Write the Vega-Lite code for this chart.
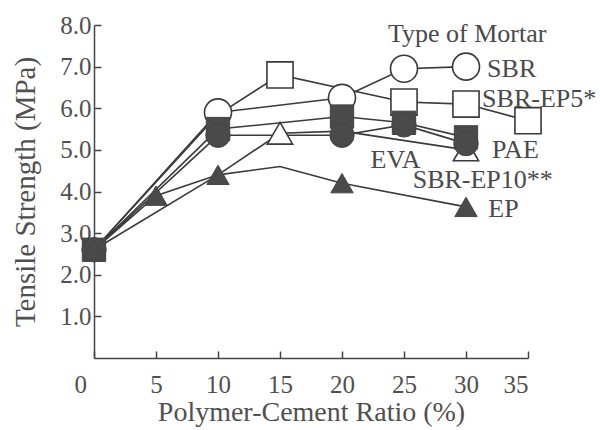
{
  "$schema": "https://vega.github.io/schema/vega-lite/v6.json",
  "width": 434,
  "height": 333,
  "autosize": {"type": "none"},
  "padding": {"left": 94, "top": 25, "right": 72, "bottom": 72},
  "background": "white",
  "config": {
    "view": {"stroke": null},
    "font": "Liberation Serif",
    "axis": {
      "grid": false,
      "labelFont": "Liberation Serif",
      "titleFont": "Liberation Serif",
      "labelFontSize": 25,
      "titleFontSize": 28,
      "titleFontWeight": "normal",
      "labelColor": "#505050",
      "titleColor": "#505050",
      "domainColor": "#444444",
      "tickColor": "#444444",
      "domainWidth": 1.5,
      "tickWidth": 1.5,
      "tickSize": -7
    }
  },
  "datasets": {
    "series": [
      {"mortar": "SBR", "ratio": 0, "ts": 2.6, "m": false},
      {"mortar": "SBR", "ratio": 10, "ts": 5.9, "m": true},
      {"mortar": "SBR", "ratio": 20, "ts": 6.25, "m": true},
      {"mortar": "SBR", "ratio": 25, "ts": 6.95, "m": true},
      {"mortar": "SBR", "ratio": 30, "ts": 7.0, "m": true},
      {"mortar": "SBR-EP5*", "ratio": 0, "ts": 2.6, "m": false},
      {"mortar": "SBR-EP5*", "ratio": 10, "ts": 5.85, "m": false},
      {"mortar": "SBR-EP5*", "ratio": 15, "ts": 6.8, "m": true},
      {"mortar": "SBR-EP5*", "ratio": 25, "ts": 6.15, "m": true},
      {"mortar": "SBR-EP5*", "ratio": 30, "ts": 6.1, "m": true},
      {"mortar": "SBR-EP5*", "ratio": 35, "ts": 5.7, "m": true},
      {"mortar": "EVA", "ratio": 0, "ts": 2.6, "m": false},
      {"mortar": "EVA", "ratio": 10, "ts": 4.4, "m": false},
      {"mortar": "EVA", "ratio": 15, "ts": 5.4, "m": true},
      {"mortar": "EVA", "ratio": 20, "ts": 5.45, "m": false},
      {"mortar": "EVA", "ratio": 30, "ts": 5.0, "m": true},
      {"mortar": "SBR-EP10**", "ratio": 0, "ts": 2.6, "m": true},
      {"mortar": "SBR-EP10**", "ratio": 10, "ts": 5.5, "m": true},
      {"mortar": "SBR-EP10**", "ratio": 20, "ts": 5.8, "m": true},
      {"mortar": "SBR-EP10**", "ratio": 25, "ts": 5.65, "m": true},
      {"mortar": "SBR-EP10**", "ratio": 30, "ts": 5.3, "m": true},
      {"mortar": "PAE", "ratio": 0, "ts": 2.6, "m": true},
      {"mortar": "PAE", "ratio": 10, "ts": 5.35, "m": true},
      {"mortar": "PAE", "ratio": 20, "ts": 5.35, "m": true},
      {"mortar": "PAE", "ratio": 25, "ts": 5.6, "m": true},
      {"mortar": "PAE", "ratio": 30, "ts": 5.15, "m": true},
      {"mortar": "EP", "ratio": 0, "ts": 2.6, "m": true},
      {"mortar": "EP", "ratio": 5, "ts": 3.9, "m": true},
      {"mortar": "EP", "ratio": 10, "ts": 4.4, "m": true},
      {"mortar": "EP", "ratio": 15, "ts": 4.6, "m": false},
      {"mortar": "EP", "ratio": 20, "ts": 4.2, "m": true},
      {"mortar": "EP", "ratio": 30, "ts": 3.63, "m": true}
    ],
    "labels": [
      {"t": "Type of Mortar", "x": 23.7, "y": 7.6},
      {"t": "SBR", "x": 31.7, "y": 6.75},
      {"t": "SBR-EP5*", "x": 31.3, "y": 6.03},
      {"t": "PAE", "x": 32.1, "y": 4.8},
      {"t": "EVA", "x": 22.3, "y": 4.57},
      {"t": "SBR-EP10**", "x": 25.7, "y": 4.09},
      {"t": "EP", "x": 31.8, "y": 3.39}
    ]
  },
  "layer": [
    {
      "data": {"name": "series"},
      "mark": {"type": "line", "color": "#3a3a3a", "strokeWidth": 1.6},
      "encoding": {
        "x": {
          "field": "ratio", "type": "quantitative",
          "scale": {"domain": [0, 35], "nice": false},
          "axis": {
            "values": [0, 5, 10, 15, 20, 25, 30, 35],
            "labelPadding": 21,
            "labelOffset": {"condition": {"test": "datum.value == 0", "value": -20}, "value": 0},
            "title": "Polymer-Cement Ratio (%)",
            "titlePadding": 1
          }
        },
        "y": {
          "field": "ts", "type": "quantitative",
          "scale": {"domain": [0, 8], "nice": false},
          "axis": {
            "values": [1, 2, 3, 4, 5, 6, 7, 8],
            "format": ".1f",
            "labelPadding": 10,
            "title": "Tensile Strength (MPa)",
            "titleFontSize": 29,
            "titlePadding": 19
          }
        },
        "detail": {"field": "mortar"}
      }
    },
    {
      "data": {"name": "series"},
      "transform": [
        {"filter": "datum.m && indexof(['EVA','SBR-EP5*','SBR'], datum.mortar) >= 0"}
      ],
      "mark": {"type": "point", "filled": false, "fill": "white", "fillOpacity": 1, "stroke": "#3a3a3a", "strokeWidth": 1.6, "opacity": 1},
      "encoding": {
        "x": {"field": "ratio", "type": "quantitative"},
        "y": {"field": "ts", "type": "quantitative"},
        "shape": {
          "field": "mortar", "type": "nominal",
          "scale": {"domain": ["SBR", "SBR-EP5*", "EVA", "PAE", "SBR-EP10**", "EP"], "range": ["circle", "square", "triangle-up", "circle", "square", "triangle-up"]},
          "legend": null
        },
        "size": {
          "field": "mortar", "type": "nominal",
          "scale": {"domain": ["SBR", "SBR-EP5*", "EVA", "PAE", "SBR-EP10**", "EP"], "range": [729, 500, 620, 680, 500, 620]},
          "legend": null
        }
      }
    },
    {
      "data": {"name": "series"},
      "transform": [
        {"filter": "datum.m && indexof(['SBR-EP10**','PAE','EP'], datum.mortar) >= 0"}
      ],
      "mark": {"type": "point", "filled": true, "fill": "#4a4a4a", "stroke": "#444444", "strokeWidth": 1, "opacity": 1},
      "encoding": {
        "x": {"field": "ratio", "type": "quantitative"},
        "y": {"field": "ts", "type": "quantitative"},
        "shape": {
          "field": "mortar", "type": "nominal",
          "scale": {"domain": ["SBR", "SBR-EP5*", "EVA", "PAE", "SBR-EP10**", "EP"], "range": ["circle", "square", "triangle-up", "circle", "square", "triangle-up"]},
          "legend": null
        },
        "size": {
          "field": "mortar", "type": "nominal",
          "scale": {"domain": ["SBR", "SBR-EP5*", "EVA", "PAE", "SBR-EP10**", "EP"], "range": [729, 500, 620, 680, 500, 620]},
          "legend": null
        }
      }
    },
    {
      "data": {"name": "labels"},
      "mark": {"type": "text", "align": "left", "baseline": "alphabetic", "font": "Liberation Serif", "fontSize": 26, "color": "#4a4a4a"},
      "encoding": {
        "x": {"field": "x", "type": "quantitative"},
        "y": {"field": "y", "type": "quantitative"},
        "text": {"field": "t"}
      }
    }
  ]
}
